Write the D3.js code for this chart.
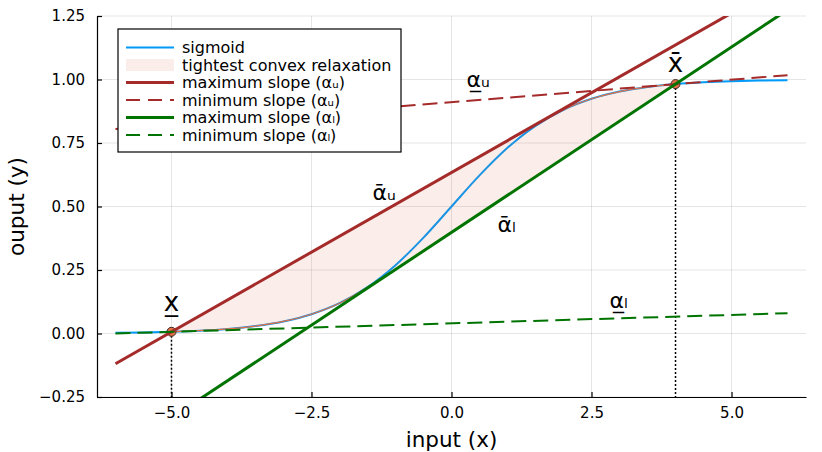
<!DOCTYPE html>
<html>
<head>
<meta charset="utf-8">
<script src="https://cdn.jsdelivr.net/npm/d3@7"></script>
<style>
  html, body { margin: 0; padding: 0; background: #fff; }
  svg { display: block; font-family: "DejaVu Sans", sans-serif; }
</style>
</head>
<body>
<svg id="chart" width="822" height="452"></svg>
<script>
// sigmoid, step 0.5
const sigX = [-6, -5.5, -5, -4.5, -4, -3.5, -3, -2.5, -2, -1.5, -1, -0.5, 0,
  0.5, 1, 1.5, 2, 2.5, 3, 3.5, 4, 4.5, 5, 5.5, 6];
const sigY = [0.0025, 0.0041, 0.0067, 0.0110, 0.0180, 0.0293, 0.0474, 0.0759, 0.1192,
  0.1824, 0.2689, 0.3775, 0.5, 0.6225, 0.7311, 0.8176, 0.8808, 0.9241, 0.9526,
  0.9707, 0.9820, 0.9890, 0.9933, 0.9959, 0.9975];

// bounds of the input interval
const lowPoint = [-5, 0.0067];
const highPoint = [4, 0.982];
// tangent points of the two max-slope lines
const tangentU = [1.76, 0.853];
const tangentL = [-1.52, 0.1795];

// line end points [x, y]
const maxSlopeU = [[-6, -0.119], [6, 1.387]];
const minSlopeU = [[-6, 0.805], [6, 1.017]];
const maxSlopeL = [[-6, -0.478], [6, 1.274]];
const minSlopeL = [[-6, 0.0], [6, 0.0798]];

const xTicks = [-5, -2.5, 0, 2.5, 5];
const xTickLabels = ['\u22125.0', '\u22122.5', '0.0', '2.5', '5.0'];
const yTicks = [-0.25, 0, 0.25, 0.5, 0.75, 1, 1.25];
const yTickLabels = ['\u22120.25', '0.00', '0.25', '0.50', '0.75', '1.00', '1.25'];

const legendLabels = ['sigmoid', 'tightest convex relaxation', 'maximum slope (\u03b1\u1d64)',
  'minimum slope (\u03b1\u1d64)', 'maximum slope (\u03b1\u2097)', 'minimum slope (\u03b1\u2097)'];

// annotations [x, y, text, anchor, size]
const notes = [
  [-5, 0.087, 'x\u0332', 'middle', 26],
  [4, 1.028, 'x\u0304', 'middle', 26],
  [-1.41, 0.524, '\u1fb1\u1d64', 'start', 22],
  [0.82, 0.398, '\u1fb1\u2097', 'start', 22],
  [0.27, 0.972, '\u03b1\u0332\u1d64', 'start', 22],
  [2.82, 0.102, '\u03b1\u0332\u2097', 'start', 22]
];

const BLUE = '#009af9';
const ORANGE = '#e26f46';
const RED = '#a52a2a';
const GREEN = '#007400';

const margin = { left: 97, right: 16, top: 16, bottom: 55 };
const W = 822, H = 452;

const svg = d3.select('#chart');
const x = d3.scaleLinear().domain([-6.33, 6.33]).range([margin.left, W - margin.right]);
const y = d3.scaleLinear().domain([-0.25, 1.25]).range([H - margin.bottom, margin.top]);

svg.append('defs').append('clipPath').attr('id', 'plotClip')
  .append('rect')
  .attr('x', x.range()[0]).attr('y', y.range()[1])
  .attr('width', x.range()[1] - x.range()[0])
  .attr('height', y.range()[0] - y.range()[1]);

// grid
const grid = svg.append('g').attr('stroke', '#000').attr('stroke-opacity', 0.1).attr('stroke-width', 1);
xTicks.forEach(t => grid.append('line')
  .attr('x1', x(t)).attr('x2', x(t)).attr('y1', y.range()[0]).attr('y2', y.range()[1]));
yTicks.forEach(t => grid.append('line')
  .attr('x1', x.range()[0]).attr('x2', x.range()[1]).attr('y1', y(t)).attr('y2', y(t)));

// axes
const xAxis = d3.axisBottom(x).tickValues(xTicks).tickSizeInner(-5).tickSizeOuter(0)
  .tickPadding(10).tickFormat((d, i) => xTickLabels[i]);
const yAxis = d3.axisLeft(y).tickValues(yTicks).tickSizeInner(-5).tickSizeOuter(0)
  .tickPadding(12).tickFormat((d, i) => yTickLabels[i]);

const gx = svg.append('g').attr('transform', `translate(0,${y.range()[0]})`).call(xAxis);
const gy = svg.append('g').attr('transform', `translate(${x.range()[0]},0)`).call(yAxis);
[gx, gy].forEach(g => {
  g.select('.domain').attr('stroke', '#000').attr('stroke-width', 1.2);
  g.selectAll('.tick line').attr('stroke', '#000').attr('stroke-width', 1.2);
  g.selectAll('.tick text').attr('fill', '#000').style('font-size', '15px')
    .style('font-family', '"DejaVu Sans", sans-serif');
});

svg.append('text').attr('x', (x.range()[0] + x.range()[1]) / 2).attr('y', 447)
  .attr('text-anchor', 'middle').style('font-size', '21.5px').text('input (x)');
svg.append('text')
  .attr('transform', `translate(24,${(y.range()[0] + y.range()[1]) / 2}) rotate(-90)`)
  .attr('text-anchor', 'middle').style('font-size', '21.5px').text('ouput (y)');

const plot = svg.append('g').attr('clip-path', 'url(#plotClip)');
const sigPts = sigX.map((v, i) => [v, sigY[i]]);
const curve = d3.line().x(d => x(d[0])).y(d => y(d[1])).curve(d3.curveMonotoneX);
const straight = d3.line().x(d => x(d[0])).y(d => y(d[1]));

// sigmoid
plot.append('path').attr('d', curve(sigPts))
  .attr('fill', 'none').attr('stroke', BLUE).attr('stroke-width', 2);

// relaxation region
const upperSig = [tangentU].concat(sigPts.filter(p => p[0] > tangentU[0] && p[0] < highPoint[0]), [highPoint]);
const lowerSig = [lowPoint].concat(sigPts.filter(p => p[0] > lowPoint[0] && p[0] < tangentL[0]), [tangentL]);
const polygon = [lowPoint].concat(upperSig, [tangentL], lowerSig.slice().reverse());
plot.append('path').attr('d', straight(polygon) + 'Z')
  .attr('fill', ORANGE).attr('fill-opacity', 0.12).attr('stroke', 'none');
[upperSig, lowerSig].forEach(pts => plot.append('path').attr('d', curve(pts))
  .attr('fill', 'none').attr('stroke', ORANGE).attr('stroke-width', 1.2));

// markers and guide lines
[lowPoint, highPoint].forEach(p => {
  plot.append('line').attr('x1', x(p[0])).attr('x2', x(p[0]))
    .attr('y1', y(p[1])).attr('y2', y.range()[0])
    .attr('stroke', '#000').attr('stroke-width', 1.5).attr('stroke-dasharray', '2,2');
  plot.append('circle').attr('cx', x(p[0])).attr('cy', y(p[1])).attr('r', 4.5)
    .attr('fill', ORANGE).attr('stroke', '#3a2a20').attr('stroke-width', 1);
});

// slope lines
const lineSpecs = [
  [maxSlopeU, RED, 3, null],
  [minSlopeU, RED, 2, '15,7'],
  [maxSlopeL, GREEN, 3, null],
  [minSlopeL, GREEN, 2, '15,7']
];
lineSpecs.forEach(([pts, color, w, dash]) => plot.append('path').attr('d', straight(pts))
  .attr('fill', 'none').attr('stroke', color).attr('stroke-width', w)
  .attr('stroke-dasharray', dash));

// annotations
notes.forEach(([nx, ny, txt, anchor, size]) => svg.append('text')
  .attr('x', x(nx)).attr('y', y(ny)).attr('text-anchor', anchor)
  .style('font-size', size + 'px').text(txt));

// legend
const lg = svg.append('g').attr('transform', 'translate(118,29)');
lg.append('rect').attr('width', 283).attr('height', 123)
  .attr('fill', '#fff').attr('stroke', '#000').attr('stroke-width', 1.2);
const legendStyles = [
  { color: BLUE, w: 2 },
  { fill: true },
  { color: RED, w: 3 },
  { color: RED, w: 2, dash: '14,8' },
  { color: GREEN, w: 3 },
  { color: GREEN, w: 2, dash: '14,8' }
];
legendLabels.forEach((label, i) => {
  const cy = 18.5 + i * 17.5;
  const s = legendStyles[i];
  if (s.fill) {
    lg.append('rect').attr('x', 8).attr('y', cy - 6).attr('width', 48).attr('height', 12)
      .attr('fill', ORANGE).attr('fill-opacity', 0.12);
  } else {
    lg.append('line').attr('x1', 8).attr('x2', 56).attr('y1', cy).attr('y2', cy)
      .attr('stroke', s.color).attr('stroke-width', s.w).attr('stroke-dasharray', s.dash || null);
  }
  lg.append('text').attr('x', 64).attr('y', cy).attr('dy', '0.35em')
    .style('font-size', '16px').text(label);
});
</script>
</body>
</html>
